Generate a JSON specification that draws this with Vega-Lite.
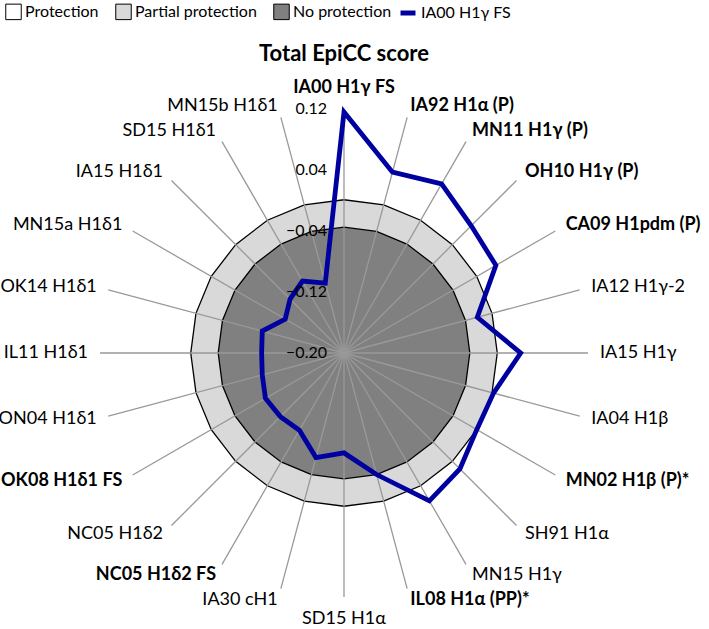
{
  "$schema": "https://vega.github.io/schema/vega-lite/v6.json",
  "width": 709,
  "height": 629,
  "autosize": {"type": "none"},
  "padding": 0,
  "background": "white",
  "config": {"view": {"stroke": null}, "font": "Lato"},
  "title": {"text": "Total EpiCC score", "font": "Lato", "fontSize": 22, "fontWeight": "bold", "color": "black", "anchor": "middle", "frame": "group", "offset": -66, "dx": -10.5},
  "datasets": {
    "scores": [
      {"strain": "IA00 H1γ FS", "idx": 0, "score": 0.116, "bold": true},
      {"strain": "IA92 H1α (P)", "idx": 1, "score": 0.0455, "bold": true},
      {"strain": "MN11 H1γ (P)", "idx": 2, "score": 0.056, "bold": true},
      {"strain": "OH10 H1γ (P)", "idx": 3, "score": 0.036, "bold": true},
      {"strain": "CA09 H1pdm (P)", "idx": 4, "score": 0.030, "bold": true},
      {"strain": "IA12 H1γ-2", "idx": 5, "score": -0.019, "bold": false},
      {"strain": "IA15 H1γ", "idx": 6, "score": 0.0317, "bold": false},
      {"strain": "IA04 H1β", "idx": 7, "score": 0.003, "bold": false},
      {"strain": "MN02 H1β (P)*", "idx": 8, "score": 0.001, "bold": true},
      {"strain": "SH91 H1α", "idx": 9, "score": 0.015, "bold": false},
      {"strain": "MN15 H1γ", "idx": 10, "score": 0.024, "bold": false},
      {"strain": "IL08 H1α (PP)*", "idx": 11, "score": -0.035, "bold": true},
      {"strain": "SD15 H1α", "idx": 12, "score": -0.069, "bold": false},
      {"strain": "IA30 cH1", "idx": 13, "score": -0.058, "bold": false},
      {"strain": "NC05 H1δ2 FS", "idx": 14, "score": -0.083, "bold": true},
      {"strain": "NC05 H1δ2", "idx": 15, "score": -0.082, "bold": false},
      {"strain": "OK08 H1δ1 FS", "idx": 16, "score": -0.081, "bold": true},
      {"strain": "ON04 H1δ1", "idx": 17, "score": -0.089, "bold": false},
      {"strain": "IL11 H1δ1", "idx": 18, "score": -0.092, "bold": false},
      {"strain": "OK14 H1δ1", "idx": 19, "score": -0.089, "bold": false},
      {"strain": "MN15a H1δ1", "idx": 20, "score": -0.111, "bold": false},
      {"strain": "IA15 H1δ1", "idx": 21, "score": -0.100, "bold": false},
      {"strain": "SD15 H1δ1", "idx": 22, "score": -0.091, "bold": false},
      {"strain": "MN15b H1δ1", "idx": 23, "score": -0.105, "bold": false}
    ],
    "zones": [
      {"zone": "Protection", "level": 0.12, "idx": [0,1,2,3,4,5,6,7,8,9,10,11,12,13,14,15,16,17,18,19,20,21,22,23]},
      {"zone": "Partial protection", "level": 0.001, "idx": [0,1,2,3,4,5,6,7,8,9,10,11,12,13,14,15,16,17,18,19,20,21,22,23]},
      {"zone": "No protection", "level": -0.035, "idx": [0,1,2,3,4,5,6,7,8,9,10,11,12,13,14,15,16,17,18,19,20,21,22,23]}
    ],
    "ticks": [
      {"v": 0.12, "t": "0.12"},
      {"v": 0.04, "t": "0.04"},
      {"v": -0.04, "t": "−0.04"},
      {"v": -0.12, "t": "−0.12"},
      {"v": -0.2, "t": "−0.20"}
    ]
  },
  "layer": [
    {
      "data": {"name": "zones"},
      "transform": [
        {"filter": "datum.zone == 'Protection'"},
        {"flatten": ["idx"]},
        {"calculate": "(datum.level + 0.2) * sin(datum.idx * PI / 12)", "as": "px"},
        {"calculate": "(datum.level + 0.2) * cos(datum.idx * PI / 12)", "as": "py"}
      ],
      "mark": {"type": "line", "interpolate": "linear-closed", "strokeWidth": 0},
      "encoding": {
        "x": {"field": "px", "type": "quantitative", "scale": {"domain": [-0.45115, 0.47869], "nice": false, "zero": false}, "axis": null},
        "y": {"field": "py", "type": "quantitative", "scale": {"domain": [-0.36197, 0.46295], "nice": false, "zero": false}, "axis": null},
        "order": {"field": "idx", "type": "quantitative"},
        "fill": {"field": "zone", "type": "nominal", "scale": {"domain": ["Protection", "Partial protection", "No protection"], "range": ["#ffffff", "#d9d9d9", "#808080"]},
          "legend": {"orient": "none", "legendX": 5, "legendY": 3, "direction": "horizontal", "title": null, "symbolType": "square", "symbolSize": 240, "symbolStrokeColor": "black", "symbolStrokeWidth": 1, "labelFont": "Lato", "labelFontSize": 16, "labelColor": "black", "labelOffset": 3, "columnPadding": 14, "padding": 0,
            "encode": {"symbols": {"update": {"fill": {"scale": "fill", "field": "value"}, "stroke": {"value": "black"}, "strokeWidth": {"value": 1}, "opacity": {"value": 1}}}}}}
      }
    },
    {
      "data": {"name": "zones"},
      "transform": [
        {"filter": "datum.zone == 'Partial protection'"},
        {"flatten": ["idx"]},
        {"calculate": "(datum.level + 0.2) * sin(datum.idx * PI / 12)", "as": "px"},
        {"calculate": "(datum.level + 0.2) * cos(datum.idx * PI / 12)", "as": "py"}
      ],
      "mark": {"type": "line", "interpolate": "linear-closed", "stroke": "black", "strokeWidth": 1.3},
      "encoding": {
        "x": {"field": "px", "type": "quantitative", "scale": {"domain": [-0.45115, 0.47869], "nice": false, "zero": false}, "axis": null},
        "y": {"field": "py", "type": "quantitative", "scale": {"domain": [-0.36197, 0.46295], "nice": false, "zero": false}, "axis": null},
        "order": {"field": "idx", "type": "quantitative"},
        "fill": {"field": "zone", "type": "nominal", "scale": {"domain": ["Protection", "Partial protection", "No protection"], "range": ["#ffffff", "#d9d9d9", "#808080"]},
          "legend": {"orient": "none", "legendX": 5, "legendY": 3, "direction": "horizontal", "title": null, "symbolType": "square", "symbolSize": 240, "symbolStrokeColor": "black", "symbolStrokeWidth": 1, "labelFont": "Lato", "labelFontSize": 16, "labelColor": "black", "labelOffset": 3, "columnPadding": 14, "padding": 0,
            "encode": {"symbols": {"update": {"fill": {"scale": "fill", "field": "value"}, "stroke": {"value": "black"}, "strokeWidth": {"value": 1}, "opacity": {"value": 1}}}}}}
      }
    },
    {
      "data": {"name": "zones"},
      "transform": [
        {"filter": "datum.zone == 'No protection'"},
        {"flatten": ["idx"]},
        {"calculate": "(datum.level + 0.2) * sin(datum.idx * PI / 12)", "as": "px"},
        {"calculate": "(datum.level + 0.2) * cos(datum.idx * PI / 12)", "as": "py"}
      ],
      "mark": {"type": "line", "interpolate": "linear-closed", "stroke": "black", "strokeWidth": 1.3},
      "encoding": {
        "x": {"field": "px", "type": "quantitative", "scale": {"domain": [-0.45115, 0.47869], "nice": false, "zero": false}, "axis": null},
        "y": {"field": "py", "type": "quantitative", "scale": {"domain": [-0.36197, 0.46295], "nice": false, "zero": false}, "axis": null},
        "order": {"field": "idx", "type": "quantitative"},
        "fill": {"field": "zone", "type": "nominal", "scale": {"domain": ["Protection", "Partial protection", "No protection"], "range": ["#ffffff", "#d9d9d9", "#808080"]},
          "legend": {"orient": "none", "legendX": 5, "legendY": 3, "direction": "horizontal", "title": null, "symbolType": "square", "symbolSize": 240, "symbolStrokeColor": "black", "symbolStrokeWidth": 1, "labelFont": "Lato", "labelFontSize": 16, "labelColor": "black", "labelOffset": 3, "columnPadding": 14, "padding": 0,
            "encode": {"symbols": {"update": {"fill": {"scale": "fill", "field": "value"}, "stroke": {"value": "black"}, "strokeWidth": {"value": 1}, "opacity": {"value": 1}}}}}}
      }
    },
    {
      "data": {"name": "scores"},
      "transform": [
        {"calculate": "0.32 * sin(datum.idx * PI / 12)", "as": "sx"},
        {"calculate": "0.32 * cos(datum.idx * PI / 12)", "as": "sy"}
      ],
      "mark": {"type": "rule", "stroke": "#999999", "strokeWidth": 1.3},
      "encoding": {
        "x": {"field": "sx", "type": "quantitative", "scale": {"domain": [-0.45115, 0.47869], "nice": false, "zero": false}, "axis": null},
        "y": {"field": "sy", "type": "quantitative", "scale": {"domain": [-0.36197, 0.46295], "nice": false, "zero": false}, "axis": null},
        "x2": {"datum": 0},
        "y2": {"datum": 0}
      }
    },
    {
      "data": {"name": "scores"},
      "transform": [
        {"calculate": "(datum.score + 0.2) * sin(datum.idx * PI / 12)", "as": "px"},
        {"calculate": "(datum.score + 0.2) * cos(datum.idx * PI / 12)", "as": "py"}
      ],
      "mark": {"type": "line", "interpolate": "linear-closed", "strokeWidth": 4.8},
      "encoding": {
        "x": {"field": "px", "type": "quantitative", "scale": {"domain": [-0.45115, 0.47869], "nice": false, "zero": false}, "axis": null},
        "y": {"field": "py", "type": "quantitative", "scale": {"domain": [-0.36197, 0.46295], "nice": false, "zero": false}, "axis": null},
        "order": {"field": "idx", "type": "quantitative"},
        "stroke": {"datum": "IA00 H1γ FS", "type": "nominal", "scale": {"domain": ["IA00 H1γ FS"], "range": ["#0000a0"]},
          "legend": {"orient": "none", "legendX": 398, "legendY": 3, "direction": "horizontal", "title": null, "symbolType": "stroke", "symbolSize": 225, "symbolStrokeWidth": 5, "labelFont": "Lato", "labelFontSize": 16, "labelColor": "black", "labelOffset": 3, "padding": 0}}
      }
    },
    {
      "data": {"name": "scores"},
      "transform": [
        {"calculate": "0.3357 * sin(datum.idx * PI / 12)", "as": "lx"},
        {"calculate": "0.3357 * cos(datum.idx * PI / 12)", "as": "ly"}
      ],
      "mark": {"type": "text", "font": "Lato", "fontSize": 18, "color": "black",
        "align": {"expr": "datum.idx == 0 || datum.idx == 12 ? 'center' : (datum.idx < 12 ? 'left' : 'right')"},
        "baseline": {"expr": "datum.idx == 0 ? 'bottom' : (datum.idx == 12 ? 'top' : 'middle')"},
        "dy": {"expr": "datum.idx == 12 ? 1 : 0"},
        "fontWeight": {"expr": "datum.bold ? 'bold' : 'normal'"}},
      "encoding": {
        "x": {"field": "lx", "type": "quantitative", "scale": {"domain": [-0.45115, 0.47869], "nice": false, "zero": false}, "axis": null},
        "y": {"field": "ly", "type": "quantitative", "scale": {"domain": [-0.36197, 0.46295], "nice": false, "zero": false}, "axis": null},
        "text": {"field": "strain", "type": "nominal"}
      }
    },
    {
      "data": {"name": "ticks"},
      "transform": [
        {"calculate": "datum.v + 0.2", "as": "ty"}
      ],
      "mark": {"type": "text", "font": "Lato", "fontSize": 16, "color": "black", "align": "right", "baseline": "middle", "dx": -17},
      "encoding": {
        "x": {"datum": 0, "type": "quantitative", "scale": {"domain": [-0.45115, 0.47869], "nice": false, "zero": false}, "axis": null},
        "y": {"field": "ty", "type": "quantitative", "scale": {"domain": [-0.36197, 0.46295], "nice": false, "zero": false}, "axis": null},
        "text": {"field": "t", "type": "nominal"}
      }
    }
  ]
}
